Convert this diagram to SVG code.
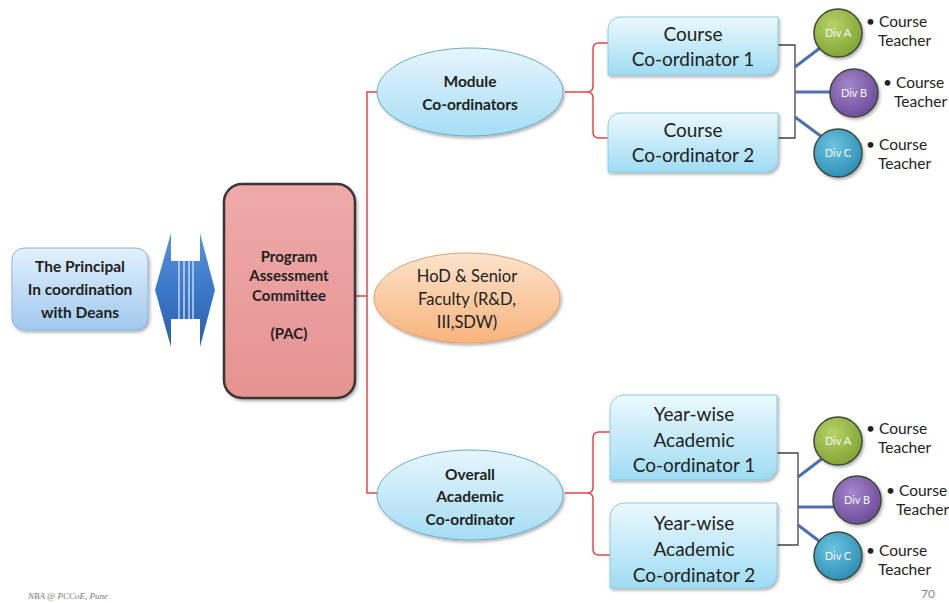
<svg xmlns="http://www.w3.org/2000/svg" width="949" height="603" viewBox="0 0 949 603">
<defs>
<linearGradient id="gPrin" x1="0" y1="0" x2="0" y2="1"><stop offset="0" stop-color="#e3f1fd"/><stop offset="1" stop-color="#9fc9ef"/></linearGradient>
<linearGradient id="gPac" x1="0" y1="0" x2="0" y2="1"><stop offset="0" stop-color="#eeaaa9"/><stop offset="1" stop-color="#e59391"/></linearGradient>
<linearGradient id="gEll" x1="0" y1="0" x2="0" y2="1"><stop offset="0" stop-color="#e6f6fd"/><stop offset="1" stop-color="#a6ddf4"/></linearGradient>
<linearGradient id="gOr" x1="0" y1="0" x2="0" y2="1"><stop offset="0" stop-color="#fde3cc"/><stop offset="1" stop-color="#f8b47c"/></linearGradient>
<linearGradient id="gBox" x1="0" y1="0" x2="0" y2="1"><stop offset="0" stop-color="#ecf9fe"/><stop offset="1" stop-color="#9fdcf3"/></linearGradient>
<linearGradient id="gArr" x1="0" y1="0" x2="0" y2="1"><stop offset="0" stop-color="#5a93dc"/><stop offset="0.5" stop-color="#3b78c9"/><stop offset="1" stop-color="#2b5fa9"/></linearGradient>
<radialGradient id="gA" cx="0.4" cy="0.35" r="0.7"><stop offset="0" stop-color="#b9d36a"/><stop offset="1" stop-color="#7ea131"/></radialGradient>
<radialGradient id="gB" cx="0.4" cy="0.35" r="0.7"><stop offset="0" stop-color="#a486c9"/><stop offset="1" stop-color="#6a4a98"/></radialGradient>
<radialGradient id="gC" cx="0.4" cy="0.35" r="0.7"><stop offset="0" stop-color="#6cc3e0"/><stop offset="1" stop-color="#2b8db3"/></radialGradient>
<filter id="sh" x="-10%" y="-10%" width="125%" height="130%"><feDropShadow dx="1.5" dy="2" stdDeviation="1.5" flood-color="#000" flood-opacity="0.3"/></filter>
</defs>
<style>
text{font-family:Lato,"Open Sans","Liberation Sans",sans-serif;fill:#222;text-anchor:middle}
.b{font-weight:bold;font-size:15.5px}
.r{font-size:16.5px}
.bx{font-size:19px}
.dv{font-size:11px;fill:#f4f4f4}
.ct{font-size:15.5px;text-anchor:start}
.red{fill:none;stroke:#e0454a;stroke-width:1.5}
.blk{fill:none;stroke:#444;stroke-width:1.3}
.blu{fill:none;stroke:#4f6fb0;stroke-width:3}
.box{fill:url(#gBox);stroke:#8ccbe3;stroke-width:1;filter:url(#sh)}
.ell{fill:url(#gEll);stroke:#6aaecb;stroke-width:1;filter:url(#sh)}
.dc{stroke:#3d4a3a;stroke-width:1.5;filter:url(#sh)}
</style>
<g id="connectors">
<path class="red" d="M378 92 H367 V493 H378 M354 296 H367"/>
<path class="red" d="M565 92 H587 Q593 92 593 86 V49 Q593 43 599 43 H608 M587 92 Q593 92 593 98 V132 Q593 138 599 138 H608"/>
<path class="red" d="M565 493 H587 Q593 493 593 487 V438 Q593 432 599 432 H610 M587 493 Q593 493 593 499 V549 Q593 555 599 555 H610"/>
<path class="blk" d="M778 45 H795 V138 H778"/>
<path class="blk" d="M777 453 H798 V545 H777"/>
<path class="blu" d="M795 67 L820 48 M795 92 H831 M795 117 L822 137"/>
<path class="blu" d="M798 477 L823 458 M798 507 H835 M798 525 L823 544"/>
</g>
<g id="principal">
<rect x="12" y="248" width="136" height="82" rx="12" fill="url(#gPrin)" stroke="#8fb3d9" stroke-width="1" filter="url(#sh)"/>
<text class="b" x="80" y="272">The Principal</text>
<text class="b" x="80" y="295">In coordination</text>
<text class="b" x="80" y="318">with Deans</text>
</g>
<g id="double-arrow">
<polygon points="155,290 171,233 171,261 200,261 200,233 215,290 200,347 200,319 171,319 171,347" fill="url(#gArr)"/>
<path d="M179 261 V319 M184 261 V319 M189 261 V319 M193 261 V319" stroke="#e8eef8" stroke-width="1.2"/>
</g>
<g id="pac">
<rect x="224" y="184" width="131" height="214" rx="18" fill="url(#gPac)" stroke="#3a3436" stroke-width="2.5" filter="url(#sh)"/>
<text class="b" x="289" y="262" style="font-size:15px">Program</text>
<text class="b" x="289" y="281" style="font-size:15px">Assessment</text>
<text class="b" x="289" y="301" style="font-size:15px">Committee</text>
<text class="b" x="289" y="339" style="font-size:15px">(PAC)</text>
</g>
<g id="module">
<ellipse class="ell" cx="470" cy="92" rx="93" ry="44"/>
<text class="b" x="470" y="87">Module</text>
<text class="b" x="470" y="110">Co-ordinators</text>
</g>
<g id="hod">
<ellipse cx="467" cy="298" rx="93" ry="45" fill="url(#gOr)" stroke="#e0a070" stroke-width="1" filter="url(#sh)"/>
<text class="r" x="467" y="282">HoD &amp; Senior</text>
<text class="r" x="467" y="305">Faculty (R&amp;D,</text>
<text class="r" x="467" y="328">III,SDW)</text>
</g>
<g id="overall">
<ellipse class="ell" cx="470" cy="495" rx="93" ry="45"/>
<text class="b" x="470" y="480">Overall</text>
<text class="b" x="470" y="502">Academic</text>
<text class="b" x="470" y="525">Co-ordinator</text>
</g>
<g id="course1">
<path class="box" d="M620 17 H778 V63 A12 12 0 0 1 766 75 H608 V29 A12 12 0 0 1 620 17 Z"/>
<text class="bx" x="693" y="41">Course</text>
<text class="bx" x="693" y="66">Co-ordinator 1</text>
</g>
<g id="course2">
<path class="box" d="M620 113 H778 V160 A12 12 0 0 1 766 172 H608 V125 A12 12 0 0 1 620 113 Z"/>
<text class="bx" x="693" y="137">Course</text>
<text class="bx" x="693" y="162">Co-ordinator 2</text>
</g>
<g id="year1">
<path class="box" d="M624 395 H777 V466 A14 14 0 0 1 763 480 H610 V409 A14 14 0 0 1 624 395 Z"/>
<text class="bx" x="694" y="421">Year-wise</text>
<text class="bx" x="694" y="447">Academic</text>
<text class="bx" x="694" y="472">Co-ordinator 1</text>
</g>
<g id="year2">
<path class="box" d="M624 503 H777 V574 A14 14 0 0 1 763 588 H610 V517 A14 14 0 0 1 624 503 Z"/>
<text class="bx" x="694" y="530">Year-wise</text>
<text class="bx" x="694" y="556">Academic</text>
<text class="bx" x="694" y="582">Co-ordinator 2</text>
</g>
<g id="divA-top">
<circle class="dc" cx="838" cy="33" r="24" fill="url(#gA)"/>
<text class="dv" x="838" y="37">Div A</text>
<text class="ct" x="866" y="27">• Course</text>
<text class="ct" x="878" y="46">Teacher</text>
</g>
<g id="divB-top">
<circle class="dc" cx="854" cy="93" r="24" fill="url(#gB)"/>
<text class="dv" x="854" y="97">Div B</text>
<text class="ct" x="883" y="88">• Course</text>
<text class="ct" x="894" y="107">Teacher</text>
</g>
<g id="divC-top">
<circle class="dc" cx="838" cy="153" r="24" fill="url(#gC)"/>
<text class="dv" x="838" y="157">Div C</text>
<text class="ct" x="866" y="150">• Course</text>
<text class="ct" x="878" y="169">Teacher</text>
</g>
<g id="divA-bot">
<circle class="dc" cx="838" cy="441" r="24" fill="url(#gA)"/>
<text class="dv" x="838" y="445">Div A</text>
<text class="ct" x="866" y="434">• Course</text>
<text class="ct" x="878" y="453">Teacher</text>
</g>
<g id="divB-bot">
<circle class="dc" cx="857" cy="500" r="24" fill="url(#gB)"/>
<text class="dv" x="857" y="504">Div B</text>
<text class="ct" x="886" y="496">• Course</text>
<text class="ct" x="896" y="515">Teacher</text>
</g>
<g id="divC-bot">
<circle class="dc" cx="838" cy="556" r="24" fill="url(#gC)"/>
<text class="dv" x="838" y="560">Div C</text>
<text class="ct" x="866" y="556">• Course</text>
<text class="ct" x="878" y="575">Teacher</text>
</g>
<text x="28" y="599" style="font-family:'Liberation Serif',serif;font-style:italic;font-size:9px;fill:#777;text-anchor:start">NBA @ PCCoE, Pune</text>
<text x="928" y="598" style="font-size:12px;fill:#888">70</text>
</svg>
